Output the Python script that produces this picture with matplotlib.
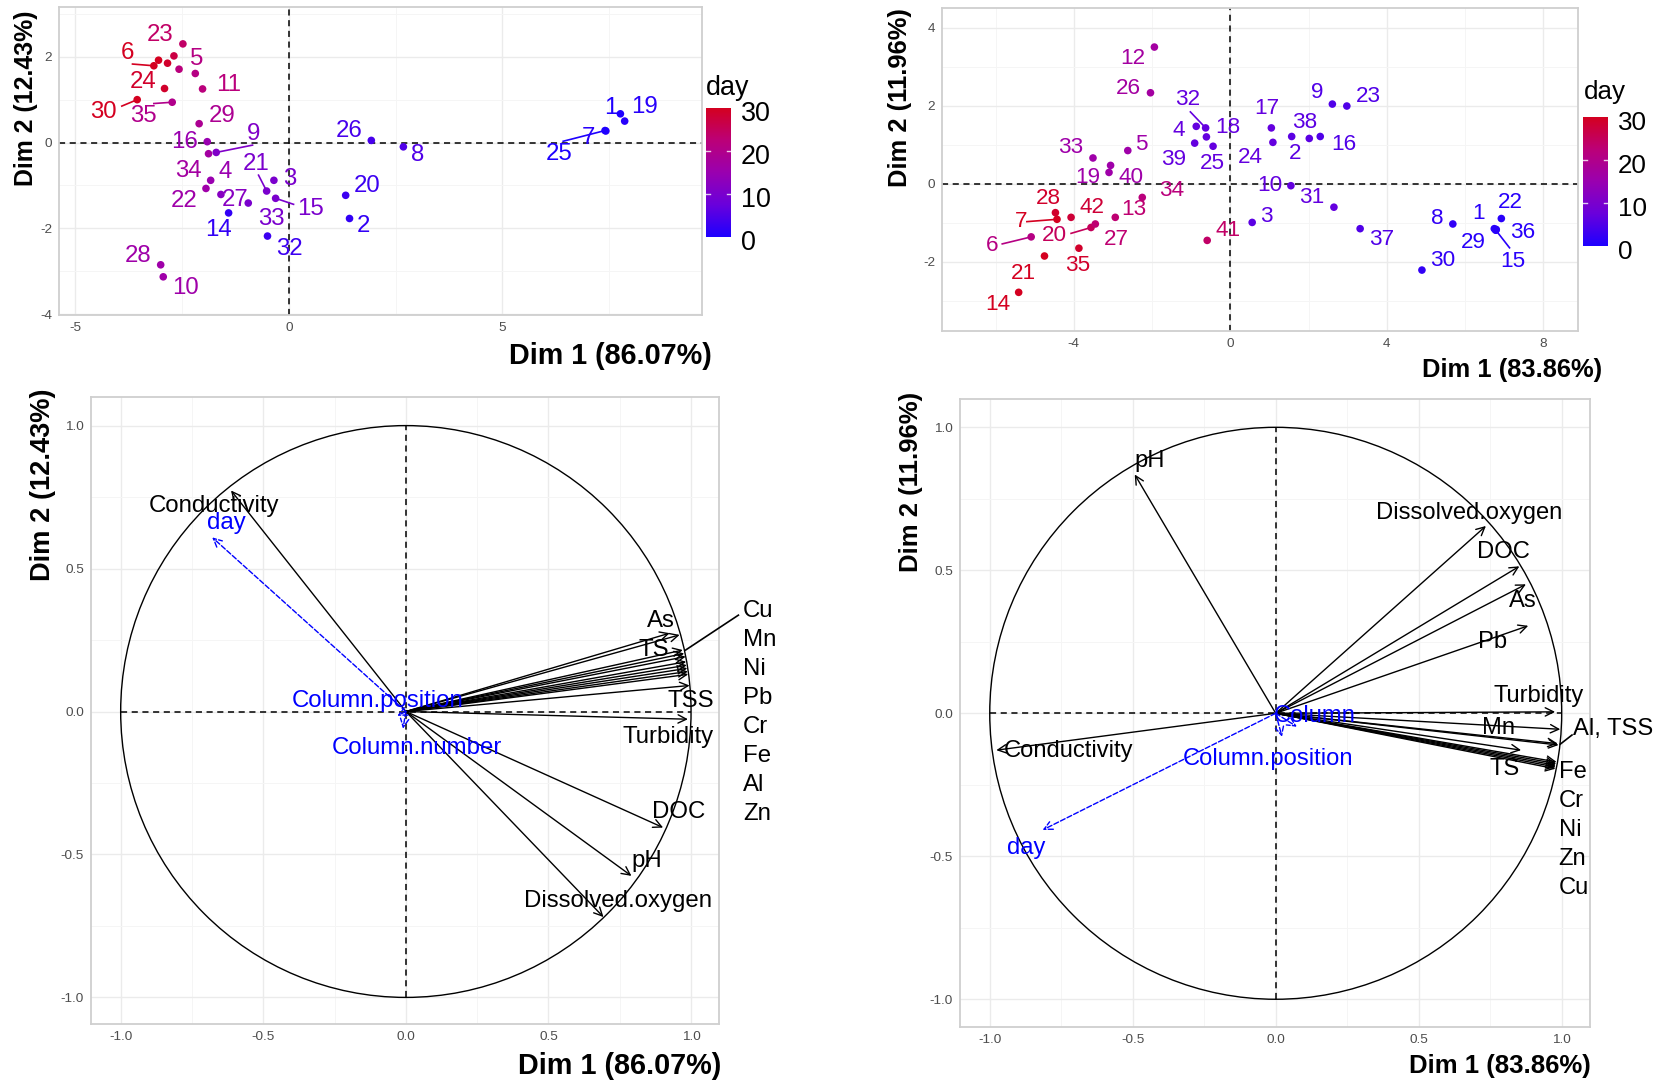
import matplotlib.pyplot as plt
from matplotlib.colors import LinearSegmentedColormap, Normalize
from matplotlib.ticker import MultipleLocator, FormatStrFormatter
from matplotlib.patches import Circle
from matplotlib.transforms import offset_copy
import numpy as np

plt.rcParams['font.family'] = ['Liberation Sans', 'DejaVu Sans']
plt.rcParams['axes.unicode_minus'] = False

# ---------------- experiment A: individuals ----------------
a_ids = [1, 19, 7, 25, 2, 20, 8, 26, 3, 4, 5, 6, 9, 10, 11, 12, 13, 14, 15, 16,
         17, 18, 21, 22, 23, 24, 27, 28, 29, 30, 32, 33, 34, 35]
a_dim1 = [7.76, 7.86, 7.42, 7.40, 1.42, 1.33, 2.68, 1.93, -0.35, -1.83, -2.19, -3.16,
          -1.70, -2.94, -2.02, -3.05, -2.84, -1.41, -0.31, -1.91, -2.69, -2.57, -0.52,
          -1.94, -2.48, -2.91, -1.59, -3.00, -2.10, -3.55, -0.50, -0.95, -1.88, -2.73]
a_dim2 = [0.67, 0.50, 0.27, 0.28, -1.77, -1.23, -0.10, 0.05, -0.88, -0.88, 1.61, 1.79,
          -0.23, -3.13, 1.25, 1.92, 1.85, -1.64, -1.30, 0.02, 2.02, 1.71, -1.13,
          -1.07, 2.30, 1.26, -1.21, -2.85, 0.44, 1.00, -2.18, -1.41, -0.26, 0.94]
a_day = [0, 1, 1, 0, 2, 3, 5, 4, 10, 15, 21, 30, 11, 16, 22, 30, 29, 2, 10, 15,
         27, 22, 10, 16, 24, 29, 12, 16, 19, 30, 3, 10, 17, 20]

# repelled label positions (samples 12, 13, 17, 18 carry no label)
a_labels = {1: (7.53, 0.81), 19: (8.32, 0.83), 7: (7.02, 0.11), 25: (6.32, -0.26),
            2: (1.75, -1.95), 20: (1.83, -1.02), 8: (3.01, -0.30), 26: (1.42, 0.26),
            3: (0.02, -0.86), 4: (-1.49, -0.69), 5: (-2.16, 1.95), 6: (-3.77, 2.09),
            9: (-0.83, 0.20), 10: (-2.43, -3.39), 11: (-1.41, 1.35), 14: (-1.65, -2.05),
            15: (0.51, -1.54), 16: (-2.45, 0.01), 21: (-0.77, -0.51), 22: (-2.45, -1.36),
            23: (-3.01, 2.51), 24: (-3.42, 1.40), 27: (-1.26, -1.35), 28: (-3.52, -2.64),
            29: (-1.57, 0.63), 30: (-4.33, 0.71), 32: (0.02, -2.49), 33: (-0.40, -1.79),
            34: (-2.35, -0.67), 35: (-3.41, 0.61)}
a_segments = {6: (-3.66, 1.83), 30: (-3.91, 0.85), 35: (-3.16, 0.91), 9: (-0.85, -0.06),
              21: (-0.71, -0.76), 15: (0.11, -1.44), 25: (6.42, 0.03)}

# ---------------- experiment B: individuals ----------------
b_ids = [1, 2, 3, 4, 5, 6, 7, 8, 9, 10, 12, 13, 14, 15, 16, 17, 18, 19, 20, 21, 22,
         23, 24, 25, 26, 27, 28, 29, 30, 31, 32, 33, 34, 35, 36, 37, 38, 39, 40, 41, 42]
b_dim1 = [6.75, 2.02, 0.56, -0.87, -2.62, -5.09, -4.43, 5.69, 2.61, 1.55, -1.94, -2.94,
          -5.41, 6.79, 2.30, 1.05, -0.61, -3.10, -3.56, -4.75, 6.93, 2.98, 1.09, -0.44,
          -2.04, -3.45, -4.47, 6.78, 4.90, 2.65, -0.63, -3.51, -2.25, -3.87, 6.80, 3.32,
          1.57, -0.91, -3.06, -0.59, -4.07]
b_dim2 = [-1.15, 1.16, -0.99, 1.47, 0.85, -1.36, -0.91, -1.03, 2.04, -0.05, 3.50, -0.86,
          -2.78, -1.19, 1.21, 1.43, 1.20, 0.29, -1.12, -1.85, -0.89, 1.99, 1.06, 0.96,
          2.33, -1.03, -0.74, -1.18, -2.21, -0.60, 1.43, 0.66, -0.35, -1.65, -1.17, -1.15,
          1.21, 1.04, 0.47, -1.45, -0.86]
b_day = [1, 6, 6, 7, 16, 21, 30, 2, 5, 7, 17, 23, 30, 1, 5, 7, 7, 16, 25, 30, 1,
         5, 7, 7, 17, 23, 29, 1, 2, 7, 7, 16, 22, 29, 1, 5, 6, 7, 16, 24, 28]

b_labels = {1: (6.36, -0.75), 2: (1.65, 0.77), 3: (0.92, -0.84), 4: (-1.31, 1.37),
            5: (-2.28, 1.00), 6: (-6.09, -1.59), 7: (-5.35, -0.97), 8: (5.28, -0.88),
            9: (2.22, 2.33), 10: (1.02, -0.05), 12: (-2.49, 3.20), 13: (-2.47, -0.65),
            14: (-5.94, -3.08), 15: (7.23, -1.99), 16: (2.90, 1.00), 17: (0.94, 1.92),
            18: (-0.06, 1.44), 19: (-3.64, 0.15), 20: (-4.49, -1.33), 21: (-5.30, -2.29),
            22: (7.17, -0.48), 23: (3.52, 2.24), 24: (0.51, 0.68), 25: (-0.46, 0.53),
            26: (-2.60, 2.45), 27: (-2.92, -1.42), 28: (-4.64, -0.39), 29: (6.22, -1.50),
            30: (5.42, -1.97), 31: (2.07, -0.34), 32: (-1.08, 2.15), 33: (-4.07, 0.92),
            34: (-1.51, -0.17), 35: (-3.90, -2.09), 36: (7.48, -1.24), 37: (3.86, -1.44),
            38: (1.90, 1.57), 39: (-1.45, 0.62), 40: (-2.53, 0.16), 41: (-0.06, -1.20),
            42: (-3.53, -0.62)}
b_segments = {32: (-1.02, 1.84), 7: (-5.20, -0.97), 20: (-4.07, -1.27),
              6: (-5.83, -1.54), 15: (7.14, -1.64)}

# ---------------- experiment A: variables ----------------
a_vars = ['Conductivity', 'As', 'TS', 'Cu', 'Mn', 'Ni', 'Pb', 'Cr', 'Fe', 'Al', 'Zn',
          'TSS', 'Turbidity', 'DOC', 'pH', 'Dissolved.oxygen']
a_var_x = [-0.613, 0.960, 0.925, 0.971, 0.976, 0.981, 0.983, 0.985, 0.987, 0.989, 0.990,
           0.995, 0.989, 0.902, 0.791, 0.693]
a_var_y = [0.773, 0.268, 0.274, 0.215, 0.203, 0.192, 0.174, 0.162, 0.151, 0.140, 0.130,
           0.091, -0.027, -0.406, -0.575, -0.719]
a_sup = ['day', 'Column.position', 'Column.number']
a_sup_x = [-0.679, -0.030, -0.010]
a_sup_y = [0.609, -0.015, -0.060]
a_metals = ['Cu', 'Mn', 'Ni', 'Pb', 'Cr', 'Fe', 'Al', 'Zn']

a_var_labels = {'Conductivity': (-0.671, 0.718), 'As': (0.896, 0.317), 'TS': (0.869, 0.215),
                'TSS': (0.999, 0.036), 'Turbidity': (0.919, -0.089), 'DOC': (0.955, -0.351),
                'pH': (0.844, -0.523), 'Dissolved.oxygen': (0.744, -0.664)}
a_sup_labels = {'day': (-0.63, 0.66), 'Column.position': (-0.10, 0.036),
                'Column.number': (0.04, -0.128)}

# ---------------- experiment B: variables ----------------
b_vars = ['pH', 'Dissolved.oxygen', 'DOC', 'As', 'Pb', 'Turbidity', 'Mn', 'Al', 'TSS', 'TS',
          'Fe', 'Cr', 'Ni', 'Zn', 'Cu', 'Conductivity']
b_var_x = [-0.493, 0.735, 0.852, 0.875, 0.883, 0.977, 0.995, 0.989, 0.986, 0.858,
           0.982, 0.981, 0.980, 0.979, 0.978, -0.977]
b_var_y = [0.835, 0.655, 0.514, 0.451, 0.306, 0.005, -0.056, -0.111, -0.106, -0.129,
           -0.170, -0.176, -0.182, -0.188, -0.194, -0.129]
b_sup = ['day', 'Column', 'Column.position']
b_sup_x = [-0.815, 0.074, 0.022]
b_sup_y = [-0.408, -0.047, -0.082]
b_metals = ['Fe', 'Cr', 'Ni', 'Zn', 'Cu']

b_var_labels = {'pH': (-0.441, 0.883), 'Dissolved.oxygen': (0.678, 0.699), 'DOC': (0.797, 0.565),
                'As': (0.863, 0.394), 'Pb': (0.759, 0.248), 'Turbidity': (0.919, 0.060),
                'Mn': (0.780, -0.050), 'TS': (0.802, -0.196), 'Conductivity': (-0.724, -0.133)}
b_sup_labels = {'day': (-0.874, -0.470), 'Column': (0.138, -0.011),
                'Column.position': (-0.026, -0.160)}

day_ticks = [0, 10, 20, 30]

# ---------------- figure helpers (pixel layout) ----------------
W, H = 1662, 1083
fig = plt.figure(figsize=(W / 100, H / 100), dpi=100)

day_cmap = LinearSegmentedColormap.from_list(
    'day', ['#1E00FF', '#6A00DC', '#9A00B0', '#BC0078', '#D40020'])
day_norm = Normalize(0, 30)


def rect(x0, y0, x1, y1):
    return [x0 / W, 1 - y1 / H, (x1 - x0) / W, (y1 - y0) / H]


def ftext(x, y, s, **kw):
    fig.text(x / W, 1 - y / H, s, **kw)


def make_panel(box, xlim, ylim, xmaj, xmin, ymaj, ymin, fmt=None):
    ax = fig.add_axes(rect(*box))
    ax.set_xlim(*xlim)
    ax.set_ylim(*ylim)
    ax.xaxis.set_major_locator(MultipleLocator(xmaj))
    ax.xaxis.set_minor_locator(MultipleLocator(xmin))
    ax.yaxis.set_major_locator(MultipleLocator(ymaj))
    ax.yaxis.set_minor_locator(MultipleLocator(ymin))
    if fmt:
        ax.xaxis.set_major_formatter(FormatStrFormatter(fmt))
        ax.yaxis.set_major_formatter(FormatStrFormatter(fmt))
    ax.grid(which='major', color='#EBEBEB', lw=1.0)
    ax.grid(which='minor', color='#F5F5F5', lw=0.7)
    ax.set_axisbelow(True)
    for sp in ax.spines.values():
        sp.set_color('#CFCFCF')
        sp.set_linewidth(1.3)
    ax.tick_params(which='both', length=0, labelsize=9.7, labelcolor='#4D4D4D', pad=5)
    return ax


def draw_individuals(ax, ids, x, y, day, labels, segments, fs):
    ax.axhline(0, color='black', ls=(0, (4, 3)), lw=1.1, zorder=1.5)
    ax.axvline(0, color='black', ls=(0, (4, 3)), lw=1.1, zorder=1.5)
    ax.scatter(x, y, c=day, cmap=day_cmap, norm=day_norm, s=30,
               edgecolors='none', zorder=3)
    for i, sid in enumerate(ids):
        col = day_cmap(day_norm(day[i]))
        if sid in segments:
            sx, sy = segments[sid]
            ax.plot([x[i], sx], [y[i], sy], color=col, lw=1.2, zorder=2.5)
        if sid in labels:
            lx, ly = labels[sid]
            ax.text(lx, ly, str(sid), color=col, fontsize=fs,
                    ha='center', va='center', zorder=4)


def draw_arrow(ax, x, y, color, ls='-'):
    ax.annotate('', xy=(x, y), xytext=(0, 0),
                arrowprops=dict(arrowstyle='->,head_length=0.6,head_width=0.3',
                                color=color, lw=1.0, linestyle=ls,
                                shrinkA=0, shrinkB=0), zorder=3)


def draw_variables(ax, names, vx, vy, labels, sup, sx, sy, sup_labels, fs):
    ax.add_patch(Circle((0, 0), 1, fill=False, ec='black', lw=1.0, zorder=2))
    ax.plot([-1, 1], [0, 0], color='black', ls=(0, (4, 3)), lw=1.1, zorder=1.5)
    ax.plot([0, 0], [-1, 1], color='black', ls=(0, (4, 3)), lw=1.1, zorder=1.5)
    for i in range(len(names)):
        draw_arrow(ax, vx[i], vy[i], 'black')
    for i in range(len(sup)):
        draw_arrow(ax, sx[i], sy[i], '#0000FF', ls='--')
    for name, (lx, ly) in labels.items():
        ax.text(lx, ly, name, color='black', fontsize=fs, ha='center', va='center', zorder=4)
    for name, (lx, ly) in sup_labels.items():
        ax.text(lx, ly, name, color='#0000FF', fontsize=fs, ha='center', va='center', zorder=4)


def day_colorbar(box, title_xy, fs):
    cax = fig.add_axes(rect(*box))
    grad = np.linspace(0, 30, 256).reshape(-1, 1)
    cax.imshow(grad, cmap=day_cmap, norm=day_norm, aspect='auto',
               origin='lower', extent=(0, 1, 0, 30))
    cax.set_xlim(0, 1)
    cax.set_ylim(0, 30)
    cax.axis('off')
    # short white ticks on both edges of the bar
    for t in day_ticks[1:-1]:
        cax.plot([0, 0.17], [t, t], color='white', lw=1, alpha=0.8)
        cax.plot([0.83, 1], [t, t], color='white', lw=1, alpha=0.8)
    lab_tr = offset_copy(cax.transData, fig=fig, x=10, y=-6, units='dots')
    for t in day_ticks:
        cax.text(1, t, str(t), transform=lab_tr, fontsize=fs, ha='left', va='center')
    ftext(title_xy[0], title_xy[1], 'day', fontsize=fs, ha='left', va='center')


# ---------------- top left: individuals A ----------------
ax1 = make_panel((59, 7, 702, 315), (-5.38, 9.67), (-4.02, 3.16), 5, 2.5, 2, 1)
draw_individuals(ax1, a_ids, a_dim1, a_dim2, a_day, a_labels, a_segments, 17.3)
day_colorbar((706, 108, 731, 237), (706, 88), 19.4)
ftext(712, 356, 'Dim 1 (86.07%)', fontsize=20.7, fontweight='bold', ha='right', va='center')
ftext(26, 98, 'Dim 2 (12.43%)', fontsize=17.9, fontweight='bold', rotation=90,
      ha='center', va='center')

# ---------------- top right: individuals B ----------------
ax2 = make_panel((942, 8, 1578, 331), (-7.37, 8.89), (-3.77, 4.5), 4, 2, 2, 1)
draw_individuals(ax2, b_ids, b_dim1, b_dim2, b_day, b_labels, b_segments, 16.2)
day_colorbar((1583, 117, 1608, 246), (1584, 92), 18.7)
ftext(1512, 370, 'Dim 1 (83.86%)', fontsize=18.4, fontweight='bold', ha='center', va='center')
ftext(900, 98, 'Dim 2 (11.96%)', fontsize=18.4, fontweight='bold', rotation=90,
      ha='center', va='center')

# ---------------- bottom left: variables A ----------------
ax3 = make_panel((91, 397, 719, 1024), (-1.104, 1.098), (-1.093, 1.10),
                 0.5, 0.25, 0.5, 0.25, fmt='%.1f')
draw_variables(ax3, a_vars, a_var_x, a_var_y, a_var_labels,
               a_sup, a_sup_x, a_sup_y, a_sup_labels, 17.3)
for k, m in enumerate(a_metals):
    ax3.text(1.182, 0.351 - k * 0.1015, m, fontsize=17.3, ha='left', va='center',
             clip_on=False, zorder=4)
ax3.plot([0.981, 1.166], [0.215, 0.337], color='black', lw=1.2, clip_on=False, zorder=3)
ftext(620, 1066, 'Dim 1 (86.07%)', fontsize=20.8, fontweight='bold', ha='center', va='center')
ftext(43, 485, 'Dim 2 (12.43%)', fontsize=19.6, fontweight='bold', rotation=90,
      ha='center', va='center')

# ---------------- bottom right: variables B ----------------
ax4 = make_panel((960, 399, 1590, 1027), (-1.104, 1.099), (-1.097, 1.099),
                 0.5, 0.25, 0.5, 0.25, fmt='%.1f')
draw_variables(ax4, b_vars, b_var_x, b_var_y, b_var_labels,
               b_sup, b_sup_x, b_sup_y, b_sup_labels, 17.1)
for k, m in enumerate(b_metals):
    ax4.text(0.989, -0.204 - k * 0.102, m, fontsize=17.1, ha='left', va='center',
             clip_on=False, zorder=4)
ax4.text(1.041, -0.055, 'Al, TSS', fontsize=17.1, ha='left', va='center',
         clip_on=False, zorder=4)
ax4.plot([0.995, 1.036], [-0.108, -0.076], color='black', lw=1.2, clip_on=False, zorder=3)
ftext(1500, 1066, 'Dim 1 (83.86%)', fontsize=18.5, fontweight='bold', ha='center', va='center')
ftext(911, 482, 'Dim 2 (11.96%)', fontsize=18.5, fontweight='bold', rotation=90,
      ha='center', va='center')

fig.savefig('out.png', dpi=100)
